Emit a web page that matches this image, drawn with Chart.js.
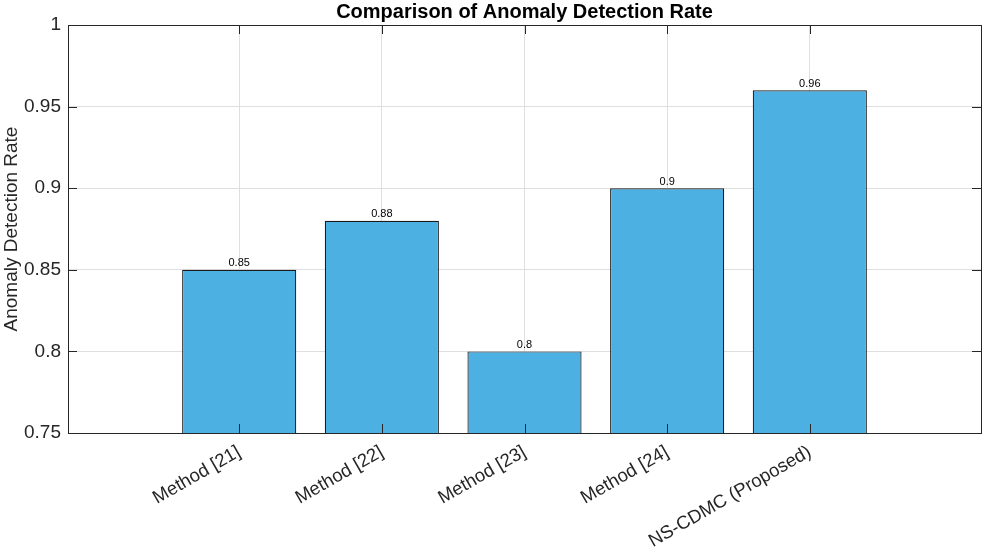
<!DOCTYPE html>
<html>
<head>
<meta charset="utf-8">
<script src="https://cdn.jsdelivr.net/npm/chart.js@4.4.1/dist/chart.umd.min.js"></script>
<style>
    body { margin: 0; background: #fff; }
    #wrap { width: 985px; height: 548px; position: relative; }
</style>
</head>
<body>
<div id="wrap"><canvas id="rateChart"></canvas></div>
<script>
// Chart data
const methods = ['Method [21]', 'Method [22]', 'Method [23]', 'Method [24]', 'NS-CDMC (Proposed)'];
const detectionRates = [0.85, 0.88, 0.80, 0.90, 0.96];
const yTickValues = [0.75, 0.8, 0.85, 0.9, 0.95, 1];
const yTickLabels = ['0.75', '0.8', '0.85', '0.9', '0.95', '1'];

const AXIS_COLOR = '#262626';
const GRID_COLOR = '#dfdfdf';
const BAR_COLOR = '#4db0e3';

Chart.defaults.font.family = "'Liberation Sans', Arial, Helvetica, sans-serif";
Chart.defaults.color = AXIS_COLOR;

// x positions of the bars (1..n) on the linear axis
const xValues = methods.map((m, i) => i + 1);

// MATLAB style tick marks drawn inside the box
const innerTicks = {
    id: 'innerTicks',
    afterDatasetsDraw(chart) {
        const { ctx, chartArea: a, scales } = chart;
        const len = 9;
        ctx.save();
        ctx.strokeStyle = AXIS_COLOR;
        ctx.lineWidth = 1;
        ctx.beginPath();
        xValues.forEach(v => {
            const px = Math.round(scales.x.getPixelForValue(v)) + 0.5;
            ctx.moveTo(px, a.bottom); ctx.lineTo(px, a.bottom - len);
            ctx.moveTo(px, a.top); ctx.lineTo(px, a.top + len);
        });
        yTickValues.forEach(v => {
            const py = Math.round(scales.y.getPixelForValue(v)) + 0.5;
            ctx.moveTo(a.left, py); ctx.lineTo(a.left + len, py);
            ctx.moveTo(a.right, py); ctx.lineTo(a.right - len, py);
        });
        ctx.stroke();
        ctx.restore();
    }
};

// Value labels above each bar
const barValues = {
    id: 'barValues',
    afterDatasetsDraw(chart) {
        const { ctx } = chart;
        const meta = chart.getDatasetMeta(0);
        ctx.save();
        ctx.font = "11px 'Liberation Sans', Arial, sans-serif";
        ctx.fillStyle = '#000';
        ctx.textAlign = 'center';
        ctx.textBaseline = 'bottom';
        meta.data.forEach((bar, i) => {
            ctx.fillText(String(detectionRates[i]), bar.x, bar.y - 1);
        });
        ctx.restore();
    }
};

const ctx = document.getElementById('rateChart').getContext('2d');
const rateChart = new Chart(ctx, {
    type: 'bar',
    data: {
        datasets: [{
            label: 'Anomaly Detection Rate',
            data: detectionRates.map((v, i) => ({ x: xValues[i], y: v })),
            backgroundColor: BAR_COLOR,
            borderColor: '#1a1a1a',
            borderWidth: 1.2,
            categoryPercentage: 0.8,
            barPercentage: 1.0
        }]
    },
    options: {
        responsive: true,
        maintainAspectRatio: false,
        animation: false,
        layout: { padding: 0 },
        plugins: {
            legend: { display: false },
            tooltip: { enabled: false },
            title: { display: false }
        },
        scales: {
            x: {
                type: 'linear',
                position: 'bottom',
                offset: false,
                min: -0.2,
                max: 6.2,
                afterBuildTicks: scale => {
                    scale.ticks = xValues.map(v => ({ value: v }));
                },
                afterFit: scale => { scale.height = 115; },
                ticks: {
                    autoSkip: false,
                    minRotation: 30,
                    maxRotation: 30,
                    padding: -3,
                    font: { size: 18.5, lineHeight: 2.6 },
                    color: AXIS_COLOR,
                    callback: value => methods[xValues.indexOf(value)]
                },
                grid: { color: GRID_COLOR, drawTicks: false, offset: false },
                border: { color: AXIS_COLOR, width: 1 }
            },
            xTop: {
                type: 'linear',
                position: 'top',
                offset: false,
                min: -0.2,
                max: 6.2,
                afterFit: scale => { scale.height = 25; },
                ticks: { display: false },
                grid: { drawOnChartArea: false, drawTicks: false, offset: false },
                border: { color: AXIS_COLOR, width: 1 },
                title: {
                    display: true,
                    text: 'Comparison of Anomaly Detection Rate',
                    color: '#000',
                    font: { size: 20, weight: 'bold' },
                    padding: { top: 0, bottom: 0 }
                }
            },
            y: {
                type: 'linear',
                position: 'left',
                min: 0.75,
                max: 1,
                afterBuildTicks: scale => {
                    scale.ticks = yTickValues.map(v => ({ value: v }));
                },
                afterFit: scale => { scale.width = 68; },
                ticks: {
                    padding: 7,
                    font: { size: 19 },
                    color: AXIS_COLOR,
                    callback: value => yTickLabels[yTickValues.indexOf(value)]
                },
                grid: { color: GRID_COLOR, drawTicks: false },
                border: { color: AXIS_COLOR, width: 1 },
                title: {
                    display: true,
                    text: 'Anomaly Detection Rate',
                    color: AXIS_COLOR,
                    font: { size: 19 },
                    padding: { top: 0, bottom: 0 }
                }
            },
            yRight: {
                type: 'linear',
                position: 'right',
                min: 0.75,
                max: 1,
                afterFit: scale => { scale.width = 4; },
                ticks: { display: false },
                grid: { drawOnChartArea: false, drawTicks: false },
                border: { color: AXIS_COLOR, width: 1 }
            }
        }
    },
    plugins: [innerTicks, barValues]
});
</script>
</body>
</html>
